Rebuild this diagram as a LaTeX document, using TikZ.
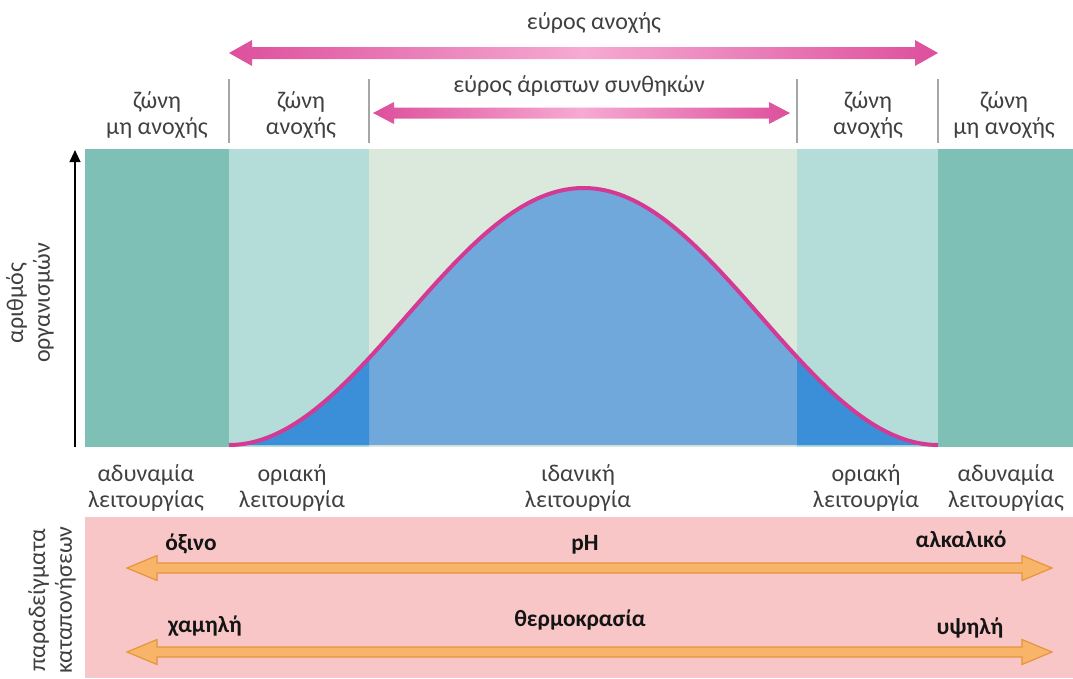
\documentclass[tikz,border=0pt]{standalone}
\usepackage{fontspec}
\setmainfont{Carlito}
\usepackage{tikz}
\usetikzlibrary{calc, arrows.meta}

\definecolor{nontolteal}{HTML}{7FC0B6}
\definecolor{tolteal}{HTML}{B4DCD8}
\definecolor{optgreen}{HTML}{DBE8DC}
\definecolor{optblue}{HTML}{70A8DC}
\definecolor{tolblue}{HTML}{3B8ED8}
\definecolor{curvepink}{HTML}{D43A94}
\definecolor{rangepink}{HTML}{DD4F9C}
\definecolor{rangelight}{HTML}{F6AAD2}
\definecolor{stresspink}{HTML}{F9C6C7}
\definecolor{stressorange}{HTML}{F8B468}
\definecolor{stressedge}{HTML}{E6953C}

% fat double arrow: style, left tip, right tip, half shaft, half head, head length
\newcommand{\fatarrow}[6]{%
  \path[#1] (#2) -- ($(#2)+(#6,#5)$) -- ($(#2)+(#6,#4)$) -- ($(#3)+(-#6,#4)$)
    -- ($(#3)+(-#6,#5)$) -- (#3) -- ($(#3)+(-#6,-#5)$) -- ($(#3)+(-#6,-#4)$)
    -- ($(#2)+(#6,-#4)$) -- ($(#2)+(#6,-#5)$) -- cycle;}

\begin{document}
\begin{tikzpicture}[x=0.75pt, y=-0.75pt,
    zonelabel/.style={align=center, font=\fontsize{18}{20}\selectfont, text=black!75, inner sep=0pt},
    stresslabel/.style={font=\fontsize{17.5}{20}\selectfont\bfseries, text=black!92, inner sep=0pt},
    axislabel/.style={zonelabel, rotate=90},
    separator/.style={draw=black!35, line width=0.8pt},
    curve/.style={draw=curvepink, line width=3pt},
    axis/.style={-{Triangle[width=8pt, length=9pt]}, line width=1.5pt, black},
    rangearrow/.style={left color=rangepink, right color=rangepink, middle color=rangelight},
    stressarrow/.style={fill=stressorange, draw=stressedge, line width=0.9pt}
]

    \useasboundingbox (0,0) rectangle (1073,678);

    % Zone bands of the tolerance chart.
    \fill[nontolteal] (85,149) rectangle (229,447);
    \fill[tolteal] (229,149) rectangle (369,447);
    \fill[optgreen] (369,149) rectangle (797,447);
    \fill[tolteal] (797,149) rectangle (938,447);
    \fill[nontolteal] (938,149) rectangle (1073,447);

    % Population curve, filled and outlined.
    \fill[optblue] plot[domain=229:938, samples=150] (\x, {445-128.5*(1+cos((\x-583.5)/354.5*180))}) -- cycle;
    \begin{scope}
        \clip (229,149) rectangle (369,447) (797,149) rectangle (938,447);
        \fill[tolblue] plot[domain=229:938, samples=150] (\x, {445-128.5*(1+cos((\x-583.5)/354.5*180))}) -- cycle;
    \end{scope}
    \draw[curve] plot[domain=229:938, samples=150] (\x, {445-128.5*(1+cos((\x-583.5)/354.5*180))});

    % Vertical axis.
    \coordinate (axisbottom) at (75,447);
    \coordinate (axistop) at (75,150);
    \draw[axis] (axisbottom) -- (axistop);
    \node[axislabel] (ylabel) at (30,303) {αριθμός\\οργανισμών};

    % Zone borders and range arrows.
    \coordinate (tolleft) at (229,53);
    \coordinate (tolright) at (938,53);
    \coordinate (optleft) at (373,113);
    \coordinate (optright) at (790,113);
    \foreach \bx in {229,369,797,938}
        \draw[separator] (\bx,79) -- (\bx,143);
    \fatarrow{rangearrow}{tolleft}{tolright}{6}{13}{23}
    \fatarrow{rangearrow}{optleft}{optright}{5.5}{11}{21}
    \node[zonelabel] (tolrange) at (594,23) {εύρος ανοχής};
    \node[zonelabel] (optrange) at (579,86) {εύρος άριστων συνθηκών};

    % Labels above the bands.
    \node[zonelabel] (nontolL) at (157,115) {ζώνη\\μη ανοχής};
    \node[zonelabel] (tolL) at (301,115) {ζώνη\\ανοχής};
    \node[zonelabel] (tolR) at (868,115) {ζώνη\\ανοχής};
    \node[zonelabel] (nontolR) at (1004,115) {ζώνη\\μη ανοχής};

    % Labels below the bands.
    \node[zonelabel] (failL) at (146,488) {αδυναμία\\λειτουργίας};
    \node[zonelabel] (edgeL) at (292,488) {οριακή\\λειτουργία};
    \node[zonelabel] (ideal) at (578,488) {ιδανική\\λειτουργία};
    \node[zonelabel] (edgeR) at (866,488) {οριακή\\λειτουργία};
    \node[zonelabel] (failR) at (1006,488) {αδυναμία\\λειτουργίας};

    % Stress examples panel.
    \fill[stresspink] (85,517) rectangle (1073,678);
    \node[axislabel] (stresslabel) at (52,600) {παραδείγματα\\καταπονήσεων};
    \coordinate (phleft) at (127,568);
    \coordinate (phright) at (1052,568);
    \coordinate (templeft) at (127,652);
    \coordinate (tempright) at (1052,652);
    \fatarrow{stressarrow}{phleft}{phright}{5}{12.5}{30}
    \fatarrow{stressarrow}{templeft}{tempright}{5}{12.5}{30}
    \node[stresslabel] (acid) at (191,544) {όξινο};
    \node[stresslabel] (ph) at (585,545) {pH};
    \node[stresslabel] (alkaline) at (961,539) {αλκαλικό};
    \node[stresslabel] (low) at (205,626) {χαμηλή};
    \node[stresslabel] (temp) at (580,620) {θερμοκρασία};
    \node[stresslabel] (high) at (970,628) {υψηλή};

\end{tikzpicture}
\end{document}
